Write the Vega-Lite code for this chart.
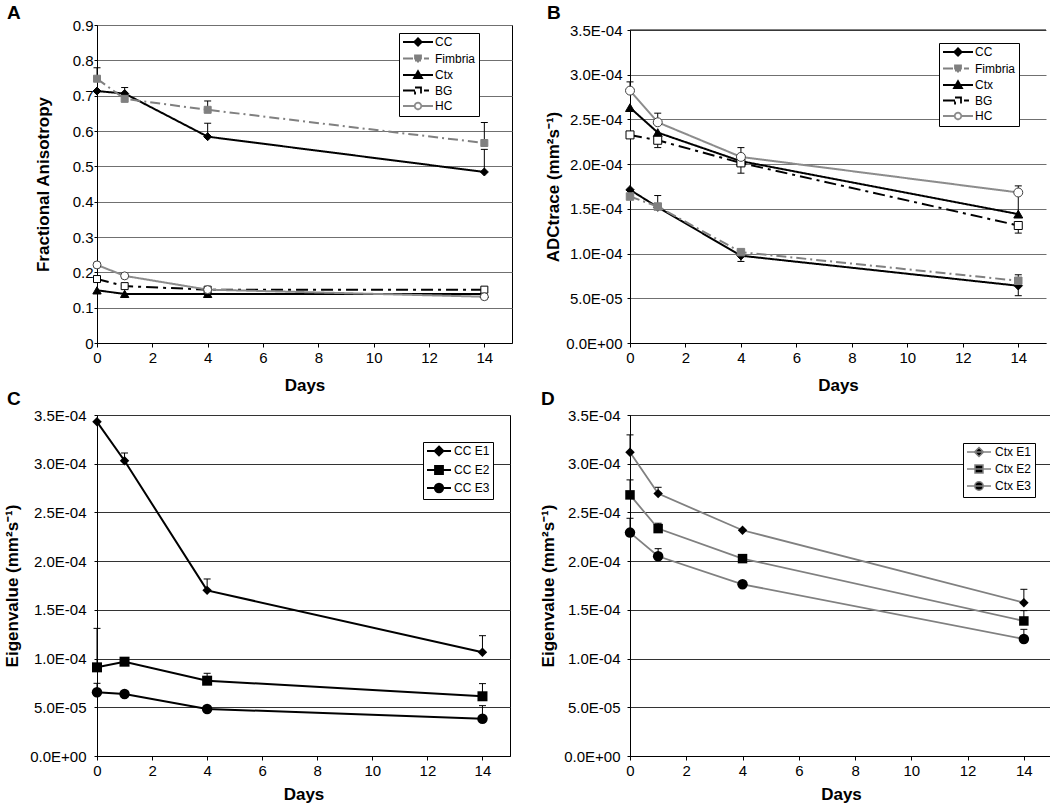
{
  "$schema": "https://vega.github.io/schema/vega-lite/v6.json",
  "background": "white",
  "padding": {"left": 3, "top": 3, "right": 0, "bottom": 0},
  "config": {
    "font": "Liberation Sans",
    "view": {"stroke": "black", "strokeWidth": 1},
    "axis": {"domainColor": "black", "tickColor": "black", "labelColor": "black", "titleColor": "black", "labelFont": "Liberation Sans", "titleFont": "Liberation Sans", "labelFontSize": 15, "titleFontSize": 17, "titleFontWeight": "bold", "domainWidth": 1, "gridWidth": 1, "gridOpacity": 1},
    "axisX": {"grid": false, "tickSize": 4, "labelPadding": 3, "titlePadding": 12, "labelAngle": 0, "labelFlush": false},
    "axisY": {"grid": true, "tickSize": 3},
    "legend": {"labelFont": "Liberation Sans", "labelFontSize": 12, "labelColor": "black"},
    "title": {"font": "Liberation Sans", "fontSize": 19, "fontWeight": "bold", "color": "black", "anchor": "start", "frame": "group", "baseline": "alphabetic"}
  },
  "datasets": {
    "fa": [
      {"series": "CC", "day": 0, "value": 0.713}, {"series": "CC", "day": 1, "value": 0.706}, {"series": "CC", "day": 4, "value": 0.584}, {"series": "CC", "day": 14, "value": 0.484},
      {"series": "Fimbria", "day": 0, "value": 0.748}, {"series": "Fimbria", "day": 1, "value": 0.691}, {"series": "Fimbria", "day": 4, "value": 0.66}, {"series": "Fimbria", "day": 14, "value": 0.566},
      {"series": "Ctx", "day": 0, "value": 0.149}, {"series": "Ctx", "day": 1, "value": 0.139}, {"series": "Ctx", "day": 4, "value": 0.139}, {"series": "Ctx", "day": 14, "value": 0.139},
      {"series": "BG", "day": 0, "value": 0.181}, {"series": "BG", "day": 1, "value": 0.161}, {"series": "BG", "day": 4, "value": 0.151}, {"series": "BG", "day": 14, "value": 0.151},
      {"series": "HC", "day": 0, "value": 0.221}, {"series": "HC", "day": 1, "value": 0.19}, {"series": "HC", "day": 4, "value": 0.151}, {"series": "HC", "day": 14, "value": 0.131}
    ],
    "faErr": [
      {"series": "CC", "day": 1, "value": 0.706, "cap": 0.723},
      {"series": "CC", "day": 4, "value": 0.584, "cap": 0.622},
      {"series": "CC", "day": 14, "value": 0.484, "cap": 0.548},
      {"series": "Fimbria", "day": 0, "value": 0.748, "cap": 0.779},
      {"series": "Fimbria", "day": 4, "value": 0.66, "cap": 0.685},
      {"series": "Fimbria", "day": 14, "value": 0.566, "cap": 0.624}
    ],
    "adc": [
      {"series": "CC", "day": 0, "value": 0.0001713}, {"series": "CC", "day": 1, "value": 0.0001519}, {"series": "CC", "day": 4, "value": 0.0000976}, {"series": "CC", "day": 14, "value": 0.000064},
      {"series": "Fimbria", "day": 0, "value": 0.0001638}, {"series": "Fimbria", "day": 1, "value": 0.0001526}, {"series": "Fimbria", "day": 4, "value": 0.0001016}, {"series": "Fimbria", "day": 14, "value": 0.0000696},
      {"series": "Ctx", "day": 0, "value": 0.0002632}, {"series": "Ctx", "day": 1, "value": 0.0002353}, {"series": "Ctx", "day": 4, "value": 0.0002033}, {"series": "Ctx", "day": 14, "value": 0.0001441},
      {"series": "BG", "day": 0, "value": 0.0002327}, {"series": "BG", "day": 1, "value": 0.0002267}, {"series": "BG", "day": 4, "value": 0.0002014}, {"series": "BG", "day": 14, "value": 0.0001314},
      {"series": "HC", "day": 0, "value": 0.0002822}, {"series": "HC", "day": 1, "value": 0.0002468}, {"series": "HC", "day": 4, "value": 0.0002081}, {"series": "HC", "day": 14, "value": 0.0001683}
    ],
    "adcErr": [
      {"series": "HC", "day": 0, "value": 0.0002822, "cap": 0.000292},
      {"series": "HC", "day": 1, "value": 0.0002468, "cap": 0.000257},
      {"series": "HC", "day": 4, "value": 0.0002081, "cap": 0.0002185},
      {"series": "HC", "day": 14, "value": 0.0001683, "cap": 0.0001757},
      {"series": "Ctx", "day": 14, "value": 0.0001441, "cap": 0.000168},
      {"series": "BG", "day": 1, "value": 0.0002267, "cap": 0.0002185},
      {"series": "BG", "day": 4, "value": 0.0002014, "cap": 0.0001899},
      {"series": "BG", "day": 14, "value": 0.0001314, "cap": 0.0001229},
      {"series": "CC", "day": 4, "value": 0.0000976, "cap": 0.0000912},
      {"series": "CC", "day": 14, "value": 0.000064, "cap": 0.0000529},
      {"series": "Fimbria", "day": 1, "value": 0.0001526, "cap": 0.0001649},
      {"series": "Fimbria", "day": 14, "value": 0.0000696, "cap": 0.0000763}
    ],
    "ccE": [
      {"series": "CC E1", "day": 0, "value": 0.000343}, {"series": "CC E1", "day": 1, "value": 0.000303}, {"series": "CC E1", "day": 4, "value": 0.00017}, {"series": "CC E1", "day": 14, "value": 0.0001064},
      {"series": "CC E2", "day": 0, "value": 0.000091}, {"series": "CC E2", "day": 1, "value": 0.0000968}, {"series": "CC E2", "day": 4, "value": 0.0000773}, {"series": "CC E2", "day": 14, "value": 0.0000613},
      {"series": "CC E3", "day": 0, "value": 0.0000654}, {"series": "CC E3", "day": 1, "value": 0.0000637}, {"series": "CC E3", "day": 4, "value": 0.0000483}, {"series": "CC E3", "day": 14, "value": 0.0000383}
    ],
    "ccEErr": [
      {"series": "CC E1", "day": 1, "value": 0.000303, "cap": 0.000311},
      {"series": "CC E1", "day": 4, "value": 0.00017, "cap": 0.0001817},
      {"series": "CC E1", "day": 14, "value": 0.0001064, "cap": 0.0001235},
      {"series": "CC E2", "day": 0, "value": 0.000091, "cap": 0.000131},
      {"series": "CC E2", "day": 4, "value": 0.0000773, "cap": 0.0000849},
      {"series": "CC E2", "day": 14, "value": 0.0000613, "cap": 0.0000743},
      {"series": "CC E3", "day": 0, "value": 0.0000654, "cap": 0.0000746},
      {"series": "CC E3", "day": 14, "value": 0.0000383, "cap": 0.0000517}
    ],
    "ctxE": [
      {"series": "Ctx E1", "day": 0, "value": 0.0003118}, {"series": "Ctx E1", "day": 1, "value": 0.0002693}, {"series": "Ctx E1", "day": 4, "value": 0.0002317}, {"series": "Ctx E1", "day": 14, "value": 0.0001574},
      {"series": "Ctx E2", "day": 0, "value": 0.000268}, {"series": "Ctx E2", "day": 1, "value": 0.0002334}, {"series": "Ctx E2", "day": 4, "value": 0.0002026}, {"series": "Ctx E2", "day": 14, "value": 0.0001386},
      {"series": "Ctx E3", "day": 0, "value": 0.0002293}, {"series": "Ctx E3", "day": 1, "value": 0.000205}, {"series": "Ctx E3", "day": 4, "value": 0.0001762}, {"series": "Ctx E3", "day": 14, "value": 0.0001201}
    ],
    "ctxEErr": [
      {"series": "Ctx E1", "day": 0, "value": 0.0003118, "cap": 0.0003296},
      {"series": "Ctx E1", "day": 1, "value": 0.0002693, "cap": 0.0002758},
      {"series": "Ctx E1", "day": 14, "value": 0.0001574, "cap": 0.0001711},
      {"series": "Ctx E2", "day": 0, "value": 0.000268, "cap": 0.0002834},
      {"series": "Ctx E2", "day": 1, "value": 0.0002334, "cap": 0.0002389},
      {"series": "Ctx E2", "day": 14, "value": 0.0001386, "cap": 0.0001492},
      {"series": "Ctx E3", "day": 0, "value": 0.0002293, "cap": 0.000244},
      {"series": "Ctx E3", "day": 1, "value": 0.000205, "cap": 0.0002128},
      {"series": "Ctx E3", "day": 14, "value": 0.0001201, "cap": 0.00013}
    ]
  },
  "columns": 2,
  "spacing": {"row": 72, "column": 118},
  "bounds": "flush",
  "align": "none",
  "resolve": {"scale": {"stroke": "independent", "shape": "independent", "fill": "independent", "strokeDash": "independent"}},
  "concat": [
    {
      "width": 415, "height": 318,
      "title": {"text": "A", "dx": -90, "offset": -5},
      "encoding": {
        "x": {"field": "day", "type": "quantitative", "scale": {"domain": [0, 15], "nice": false, "zero": false}, "axis": {"values": [0, 2, 4, 6, 8, 10, 12, 14], "title": "Days"}},
        "y": {"field": "value", "type": "quantitative", "scale": {"domain": [0, 0.9], "nice": false}, "axis": {"values": [0, 0.1, 0.2, 0.3, 0.4, 0.5, 0.6, 0.7, 0.8, 0.9], "format": ".1~f", "title": "Fractional Anisotropy", "labelPadding": 1, "titlePadding": 20, "gridColor": "#707070", "labelOverlap": false}}
      },
      "layer": [
        {"data": {"name": "fa"}, "mark": {"type": "point", "filled": true, "opacity": 0, "size": 100},
         "encoding": {
           "shape": {"field": "series", "type": "nominal", "scale": {"domain": ["CC", "Fimbria", "Ctx", "BG", "HC"], "range": ["M-1,0H5M2,-0.75L2.75,0L2,0.75L1.25,0Z", "M-1,0H1.4M3.2,0H4.2M1.4,-0.6H2.6V0.6H1.4Z", "M-1,0H5M2,-0.8L2.8,0.6H1.2Z", "M-1,0H1.4M3.2,0H4.2M1.4,-0.6H2.6V0.6H1.4Z", "M-1,0H1.35M2.65,0H5M2.65,0A0.65,0.65,0,1,1,1.35,0A0.65,0.65,0,1,1,2.65,0Z"]},
             "legend": {"title": null, "orient": "none", "legendX": 302, "legendY": 8, "symbolSize": 100, "symbolStrokeWidth": 1.8, "symbolOpacity": 1, "padding": 3, "strokeColor": "black", "fillColor": "white", "labelOffset": 21, "rowPadding": 1.5}},
           "fill": {"field": "series", "type": "nominal", "scale": {"domain": ["CC", "Fimbria", "Ctx", "BG", "HC"], "range": ["black", "#808080", "black", "white", "white"]},
             "legend": {"title": null, "orient": "none", "legendX": 302, "legendY": 8, "symbolSize": 100, "symbolStrokeWidth": 1.8, "symbolOpacity": 1, "padding": 3, "strokeColor": "black", "fillColor": "white", "labelOffset": 21, "rowPadding": 1.5}},
           "stroke": {"field": "series", "type": "nominal", "scale": {"domain": ["CC", "Fimbria", "Ctx", "BG", "HC"], "range": ["black", "#808080", "black", "black", "#8c8c8c"]},
             "legend": {"title": null, "orient": "none", "legendX": 302, "legendY": 8, "symbolSize": 100, "symbolStrokeWidth": 1.8, "symbolOpacity": 1, "padding": 3, "strokeColor": "black", "fillColor": "white", "labelOffset": 21, "rowPadding": 1.5}}
         }},
        {"data": {"name": "faErr"}, "mark": {"type": "rule", "color": "black", "strokeWidth": 1},
         "encoding": {"y2": {"field": "cap"}}},
        {"data": {"name": "faErr"}, "mark": {"type": "tick", "orient": "horizontal", "size": 7, "thickness": 1, "color": "black", "opacity": 1},
         "encoding": {"y": {"field": "cap", "type": "quantitative", "scale": {"domain": [0, 0.9], "nice": false}, "axis": {"values": [0, 0.1, 0.2, 0.3, 0.4, 0.5, 0.6, 0.7, 0.8, 0.9], "format": ".1~f", "title": "Fractional Anisotropy", "labelPadding": 1, "titlePadding": 20, "gridColor": "#707070", "labelOverlap": false}}}},
        {"data": {"name": "fa"}, "mark": {"type": "line", "strokeWidth": 2},
         "encoding": {
           "stroke": {"field": "series", "type": "nominal"},
           "strokeDash": {"field": "series", "type": "nominal", "scale": {"domain": ["CC", "Fimbria", "Ctx", "BG", "HC"], "range": [[1, 0], [10, 4, 2, 4], [1, 0], [12, 5, 3, 5], [1, 0]]}, "legend": null}
         }},
        {"data": {"name": "fa"}, "transform": [{"filter": "datum.series === 'CC'"}], "mark": {"type": "point", "shape": "diamond", "filled": true, "fill": "black", "stroke": "black", "strokeWidth": 1, "opacity": 1, "size": 64}},
        {"data": {"name": "fa"}, "transform": [{"filter": "datum.series === 'Fimbria'"}], "mark": {"type": "point", "shape": "square", "filled": true, "fill": "#808080", "stroke": "#808080", "strokeWidth": 1, "opacity": 1, "size": 49}},
        {"data": {"name": "fa"}, "transform": [{"filter": "datum.series === 'Ctx'"}], "mark": {"type": "point", "shape": "triangle-up", "filled": true, "fill": "black", "stroke": "black", "strokeWidth": 1, "opacity": 1, "size": 70}},
        {"data": {"name": "fa"}, "transform": [{"filter": "datum.series === 'BG'"}], "mark": {"type": "point", "shape": "square", "filled": true, "fill": "white", "stroke": "black", "strokeWidth": 1, "opacity": 1, "size": 49}},
        {"data": {"name": "fa"}, "transform": [{"filter": "datum.series === 'HC'"}], "mark": {"type": "point", "shape": "circle", "filled": true, "fill": "white", "stroke": "#404040", "strokeWidth": 1, "opacity": 1, "size": 64}}
      ]
    },
    {
      "width": 416, "height": 318,
      "view": {"stroke": null},
      "title": {"text": "B", "dx": -83, "offset": 0},
      "encoding": {
        "x": {"field": "day", "type": "quantitative", "scale": {"domain": [0, 15], "nice": false, "zero": false}, "axis": {"values": [0, 2, 4, 6, 8, 10, 12, 14], "title": "Days"}},
        "y": {"field": "value", "type": "quantitative", "scale": {"domain": [0, 0.00035], "nice": false, "range": [318, 5]}, "axis": {"values": [0, 0.00005, 0.0001, 0.00015, 0.0002, 0.00025, 0.0003, 0.00035], "labelExpr": "datum.value == 0 ? '0.0E+00' : datum.value < 0.0000999 ? format(datum.value*100000,'.1f') + 'E-05' : format(datum.value*10000,'.1f') + 'E-04'", "title": "ADCtrace (mm²s⁻¹)", "labelPadding": 5, "titlePadding": 3, "gridColor": "#707070", "labelOverlap": false}}
      },
      "layer": [
        {"data": {"name": "adc"}, "mark": {"type": "point", "filled": true, "opacity": 0, "size": 100},
         "encoding": {
           "shape": {"field": "series", "type": "nominal", "scale": {"domain": ["CC", "Fimbria", "Ctx", "BG", "HC"], "range": ["M-1,0H5M2,-0.75L2.75,0L2,0.75L1.25,0Z", "M-1,0H1.4M3.2,0H4.2M1.4,-0.6H2.6V0.6H1.4Z", "M-1,0H5M2,-0.8L2.8,0.6H1.2Z", "M-1,0H1.4M3.2,0H4.2M1.4,-0.6H2.6V0.6H1.4Z", "M-1,0H1.35M2.65,0H5M2.65,0A0.65,0.65,0,1,1,1.35,0A0.65,0.65,0,1,1,2.65,0Z"]},
             "legend": {"title": null, "orient": "none", "legendX": 309, "legendY": 18, "symbolSize": 100, "symbolStrokeWidth": 1.8, "symbolOpacity": 1, "padding": 3, "strokeColor": "black", "fillColor": "white", "labelOffset": 21, "rowPadding": 1.5}},
           "fill": {"field": "series", "type": "nominal", "scale": {"domain": ["CC", "Fimbria", "Ctx", "BG", "HC"], "range": ["black", "#808080", "black", "white", "white"]},
             "legend": {"title": null, "orient": "none", "legendX": 309, "legendY": 18, "symbolSize": 100, "symbolStrokeWidth": 1.8, "symbolOpacity": 1, "padding": 3, "strokeColor": "black", "fillColor": "white", "labelOffset": 21, "rowPadding": 1.5}},
           "stroke": {"field": "series", "type": "nominal", "scale": {"domain": ["CC", "Fimbria", "Ctx", "BG", "HC"], "range": ["black", "#808080", "black", "black", "#8c8c8c"]},
             "legend": {"title": null, "orient": "none", "legendX": 309, "legendY": 18, "symbolSize": 100, "symbolStrokeWidth": 1.8, "symbolOpacity": 1, "padding": 3, "strokeColor": "black", "fillColor": "white", "labelOffset": 21, "rowPadding": 1.5}}
         }},
        {"data": {"name": "adcErr"}, "mark": {"type": "rule", "color": "black", "strokeWidth": 1},
         "encoding": {"y2": {"field": "cap"}}},
        {"data": {"name": "adcErr"}, "mark": {"type": "tick", "orient": "horizontal", "size": 7, "thickness": 1, "color": "black", "opacity": 1},
         "encoding": {"y": {"field": "cap", "type": "quantitative", "scale": {"domain": [0, 0.00035], "nice": false, "range": [318, 5]}, "axis": {"values": [0, 0.00005, 0.0001, 0.00015, 0.0002, 0.00025, 0.0003, 0.00035], "labelExpr": "datum.value == 0 ? '0.0E+00' : datum.value < 0.0000999 ? format(datum.value*100000,'.1f') + 'E-05' : format(datum.value*10000,'.1f') + 'E-04'", "title": "ADCtrace (mm²s⁻¹)", "labelPadding": 5, "titlePadding": 3, "gridColor": "#707070", "labelOverlap": false}}}},
        {"data": {"values": [{"edge": "right", "v0": 0, "v1": 0.00035}]}, "mark": {"type": "rule", "color": "black", "strokeWidth": 1},
         "encoding": {"x": {"datum": 15, "type": "quantitative"}, "y": {"field": "v0", "type": "quantitative", "scale": {"domain": [0, 0.00035], "nice": false, "range": [318, 5]}, "axis": {"values": [0, 0.00005, 0.0001, 0.00015, 0.0002, 0.00025, 0.0003, 0.00035], "labelExpr": "datum.value == 0 ? '0.0E+00' : datum.value < 0.0000999 ? format(datum.value*100000,'.1f') + 'E-05' : format(datum.value*10000,'.1f') + 'E-04'", "title": "ADCtrace (mm²s⁻¹)", "labelPadding": 5, "titlePadding": 3, "gridColor": "#707070", "labelOverlap": false}}, "y2": {"field": "v1"}}},
        {"data": {"values": [{"edge": "top", "d0": 0, "d1": 15, "v1": 0.00035}]}, "mark": {"type": "rule", "color": "black", "strokeWidth": 1},
         "encoding": {"x": {"field": "d0", "type": "quantitative", "scale": {"domain": [0, 15], "nice": false, "zero": false}, "axis": {"values": [0, 2, 4, 6, 8, 10, 12, 14], "title": "Days"}}, "x2": {"field": "d1"}, "y": {"field": "v1", "type": "quantitative", "scale": {"domain": [0, 0.00035], "nice": false, "range": [318, 5]}, "axis": {"values": [0, 0.00005, 0.0001, 0.00015, 0.0002, 0.00025, 0.0003, 0.00035], "labelExpr": "datum.value == 0 ? '0.0E+00' : datum.value < 0.0000999 ? format(datum.value*100000,'.1f') + 'E-05' : format(datum.value*10000,'.1f') + 'E-04'", "title": "ADCtrace (mm²s⁻¹)", "labelPadding": 5, "titlePadding": 3, "gridColor": "#707070", "labelOverlap": false}}}},
        {"data": {"name": "adc"}, "mark": {"type": "line", "strokeWidth": 2},
         "encoding": {
           "stroke": {"field": "series", "type": "nominal"},
           "strokeDash": {"field": "series", "type": "nominal", "scale": {"domain": ["CC", "Fimbria", "Ctx", "BG", "HC"], "range": [[1, 0], [10, 4, 2, 4], [1, 0], [12, 5, 3, 5], [1, 0]]}, "legend": null}
         }},
        {"data": {"name": "adc"}, "transform": [{"filter": "datum.series === 'CC'"}], "mark": {"type": "point", "shape": "diamond", "filled": true, "fill": "black", "stroke": "black", "strokeWidth": 1, "opacity": 1, "size": 70}},
        {"data": {"name": "adc"}, "transform": [{"filter": "datum.series === 'Fimbria'"}], "mark": {"type": "point", "shape": "square", "filled": true, "fill": "#808080", "stroke": "#808080", "strokeWidth": 1, "opacity": 1, "size": 56}},
        {"data": {"name": "adc"}, "transform": [{"filter": "datum.series === 'Ctx'"}], "mark": {"type": "point", "shape": "triangle-up", "filled": true, "fill": "black", "stroke": "black", "strokeWidth": 1, "opacity": 1, "size": 80}},
        {"data": {"name": "adc"}, "transform": [{"filter": "datum.series === 'BG'"}], "mark": {"type": "point", "shape": "square", "filled": true, "fill": "white", "stroke": "black", "strokeWidth": 1, "opacity": 1, "size": 64}},
        {"data": {"name": "adc"}, "transform": [{"filter": "datum.series === 'HC'"}], "mark": {"type": "point", "shape": "circle", "filled": true, "fill": "white", "stroke": "#404040", "strokeWidth": 1, "opacity": 1, "size": 80}}
      ]
    },
    {
      "width": 413, "height": 341,
      "title": {"text": "C", "dx": -90, "offset": -1},
      "encoding": {
        "x": {"field": "day", "type": "quantitative", "scale": {"domain": [0, 15], "nice": false, "zero": false}, "axis": {"values": [0, 2, 4, 6, 8, 10, 12, 14], "title": "Days", "titlePadding": 8}},
        "y": {"field": "value", "type": "quantitative", "scale": {"domain": [0, 0.00035], "nice": false}, "axis": {"values": [0, 0.00005, 0.0001, 0.00015, 0.0002, 0.00025, 0.0003, 0.00035], "labelExpr": "datum.value == 0 ? '0.0E+00' : datum.value < 0.0000999 ? format(datum.value*100000,'.1f') + 'E-05' : format(datum.value*10000,'.1f') + 'E-04'", "title": "Eigenvalue (mm²s⁻¹)", "labelPadding": 8, "titlePadding": 8, "gridColor": "#333333", "labelOverlap": false}}
      },
      "layer": [
        {"data": {"name": "ccE"}, "mark": {"type": "point", "filled": true, "opacity": 0, "size": 100},
         "encoding": {
           "shape": {"field": "series", "type": "nominal", "scale": {"domain": ["CC E1", "CC E2", "CC E3"], "range": ["M-1,0H3.8M1.4,-0.9L2.3,0L1.4,0.9L0.5,0Z", "M-1,0H3.8M0.6,-0.8H2.2V0.8H0.6Z", "M-1,0H3.8M2.25,0A0.85,0.85,0,1,1,0.55,0A0.85,0.85,0,1,1,2.25,0Z"]},
             "legend": {"title": null, "orient": "none", "legendX": 326, "legendY": 27, "symbolSize": 100, "symbolStrokeWidth": 1.8, "symbolOpacity": 1, "padding": 3, "strokeColor": "black", "fillColor": "white", "labelOffset": 16, "rowPadding": 2}},
           "fill": {"field": "series", "type": "nominal", "scale": {"domain": ["CC E1", "CC E2", "CC E3"], "range": ["black", "black", "black"]},
             "legend": {"title": null, "orient": "none", "legendX": 326, "legendY": 27, "symbolSize": 100, "symbolStrokeWidth": 1.8, "symbolOpacity": 1, "padding": 3, "strokeColor": "black", "fillColor": "white", "labelOffset": 16, "rowPadding": 2}},
           "stroke": {"field": "series", "type": "nominal", "scale": {"domain": ["CC E1", "CC E2", "CC E3"], "range": ["black", "black", "black"]},
             "legend": {"title": null, "orient": "none", "legendX": 326, "legendY": 27, "symbolSize": 100, "symbolStrokeWidth": 1.8, "symbolOpacity": 1, "padding": 3, "strokeColor": "black", "fillColor": "white", "labelOffset": 16, "rowPadding": 2}}
         }},
        {"data": {"name": "ccEErr"}, "mark": {"type": "rule", "color": "black", "strokeWidth": 1},
         "encoding": {"y2": {"field": "cap"}}},
        {"data": {"name": "ccEErr"}, "mark": {"type": "tick", "orient": "horizontal", "size": 7, "thickness": 1, "color": "black", "opacity": 1},
         "encoding": {"y": {"field": "cap", "type": "quantitative", "scale": {"domain": [0, 0.00035], "nice": false}, "axis": {"values": [0, 0.00005, 0.0001, 0.00015, 0.0002, 0.00025, 0.0003, 0.00035], "labelExpr": "datum.value == 0 ? '0.0E+00' : datum.value < 0.0000999 ? format(datum.value*100000,'.1f') + 'E-05' : format(datum.value*10000,'.1f') + 'E-04'", "title": "Eigenvalue (mm²s⁻¹)", "labelPadding": 8, "titlePadding": 8, "gridColor": "#333333", "labelOverlap": false}}}},
        {"data": {"name": "ccE"}, "mark": {"type": "line", "strokeWidth": 2},
         "encoding": {"stroke": {"field": "series", "type": "nominal"}}},
        {"data": {"name": "ccE"}, "transform": [{"filter": "datum.series === 'CC E1'"}], "mark": {"type": "point", "shape": "diamond", "filled": true, "color": "black", "opacity": 1, "size": 90}},
        {"data": {"name": "ccE"}, "transform": [{"filter": "datum.series === 'CC E2'"}], "mark": {"type": "point", "shape": "square", "filled": true, "color": "black", "opacity": 1, "size": 100}},
        {"data": {"name": "ccE"}, "transform": [{"filter": "datum.series === 'CC E3'"}], "mark": {"type": "point", "shape": "circle", "filled": true, "color": "black", "opacity": 1, "size": 110}}
      ]
    },
    {
      "width": 422, "height": 341,
      "title": {"text": "D", "dx": -89, "offset": -1},
      "encoding": {
        "x": {"field": "day", "type": "quantitative", "scale": {"domain": [0, 15], "nice": false, "zero": false}, "axis": {"values": [0, 2, 4, 6, 8, 10, 12, 14], "title": "Days", "titlePadding": 8}},
        "y": {"field": "value", "type": "quantitative", "scale": {"domain": [0, 0.00035], "nice": false}, "axis": {"values": [0, 0.00005, 0.0001, 0.00015, 0.0002, 0.00025, 0.0003, 0.00035], "labelExpr": "datum.value == 0 ? '0.0E+00' : datum.value < 0.0000999 ? format(datum.value*100000,'.1f') + 'E-05' : format(datum.value*10000,'.1f') + 'E-04'", "title": "Eigenvalue (mm²s⁻¹)", "labelPadding": 7, "titlePadding": 6, "gridColor": "#333333", "labelOverlap": false}}
      },
      "layer": [
        {"data": {"name": "ctxE"}, "mark": {"type": "point", "filled": true, "opacity": 0, "size": 100},
         "encoding": {
           "shape": {"field": "series", "type": "nominal", "scale": {"domain": ["Ctx E1", "Ctx E2", "Ctx E3"], "range": ["M-1,0H3.8M1.4,-0.9L2.3,0L1.4,0.9L0.5,0Z", "M-1,0H3.8M0.6,-0.8H2.2V0.8H0.6Z", "M-1,0H3.8M2.25,0A0.85,0.85,0,1,1,0.55,0A0.85,0.85,0,1,1,2.25,0Z"]},
             "legend": {"title": null, "orient": "none", "legendX": 333, "legendY": 28, "symbolSize": 100, "symbolStrokeWidth": 1.5, "symbolOpacity": 1, "padding": 3, "strokeColor": "black", "fillColor": "white", "labelOffset": 17, "rowPadding": 2}},
           "fill": {"field": "series", "type": "nominal", "scale": {"domain": ["Ctx E1", "Ctx E2", "Ctx E3"], "range": ["black", "black", "black"]},
             "legend": {"title": null, "orient": "none", "legendX": 333, "legendY": 28, "symbolSize": 100, "symbolStrokeWidth": 1.5, "symbolOpacity": 1, "padding": 3, "strokeColor": "black", "fillColor": "white", "labelOffset": 17, "rowPadding": 2}},
           "stroke": {"field": "series", "type": "nominal", "scale": {"domain": ["Ctx E1", "Ctx E2", "Ctx E3"], "range": ["#808080", "#808080", "#808080"]},
             "legend": {"title": null, "orient": "none", "legendX": 333, "legendY": 28, "symbolSize": 100, "symbolStrokeWidth": 1.5, "symbolOpacity": 1, "padding": 3, "strokeColor": "black", "fillColor": "white", "labelOffset": 17, "rowPadding": 2}}
         }},
        {"data": {"name": "ctxEErr"}, "mark": {"type": "rule", "color": "black", "strokeWidth": 1},
         "encoding": {"y2": {"field": "cap"}}},
        {"data": {"name": "ctxEErr"}, "mark": {"type": "tick", "orient": "horizontal", "size": 7, "thickness": 1, "color": "black", "opacity": 1},
         "encoding": {"y": {"field": "cap", "type": "quantitative", "scale": {"domain": [0, 0.00035], "nice": false}, "axis": {"values": [0, 0.00005, 0.0001, 0.00015, 0.0002, 0.00025, 0.0003, 0.00035], "labelExpr": "datum.value == 0 ? '0.0E+00' : datum.value < 0.0000999 ? format(datum.value*100000,'.1f') + 'E-05' : format(datum.value*10000,'.1f') + 'E-04'", "title": "Eigenvalue (mm²s⁻¹)", "labelPadding": 7, "titlePadding": 6, "gridColor": "#333333", "labelOverlap": false}}}},
        {"data": {"name": "ctxE"}, "mark": {"type": "line", "strokeWidth": 1.8},
         "encoding": {"stroke": {"field": "series", "type": "nominal"}}},
        {"data": {"name": "ctxE"}, "transform": [{"filter": "datum.series === 'Ctx E1'"}], "mark": {"type": "point", "shape": "diamond", "filled": true, "color": "black", "opacity": 1, "size": 90}},
        {"data": {"name": "ctxE"}, "transform": [{"filter": "datum.series === 'Ctx E2'"}], "mark": {"type": "point", "shape": "square", "filled": true, "color": "black", "opacity": 1, "size": 90}},
        {"data": {"name": "ctxE"}, "transform": [{"filter": "datum.series === 'Ctx E3'"}], "mark": {"type": "point", "shape": "circle", "filled": true, "color": "black", "opacity": 1, "size": 110}}
      ]
    }
  ]
}
